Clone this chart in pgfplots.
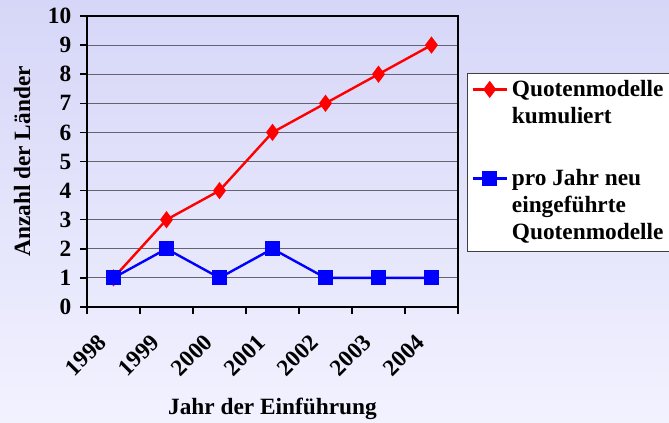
\documentclass[border=0pt]{standalone}
\usepackage{pgfplots}
\pgfplotsset{compat=1.18}
\usepackage{fontspec}
\setmainfont{Liberation Serif}
\newcommand{\fs}{\fontsize{17.5}{20.25}\selectfont\bfseries}
\definecolor{bgtop}{RGB}{214,214,248}
\definecolor{bgbot}{RGB}{242,242,255}
\definecolor{gridc}{RGB}{100,100,112}
\begin{document}
\begin{tikzpicture}
\clip (0pt,0pt) rectangle (501.75pt,317.25pt);
\shade[top color=bgtop, bottom color=bgbot] (0pt,0pt) rectangle (501.75pt,317.25pt);
\begin{axis}[at={(65.25pt,87pt)}, anchor=south west, scale only axis,
  width=278.25pt, height=218.25pt,
  xmin=-0.5, xmax=6.5, ymin=0, ymax=10,
  xtick={0,1,2,3,4,5,6},
  xticklabels={1998,1999,2000,2001,2002,2003,2004},
  major x tick style={draw=none},
  minor xtick={-0.5,0.5,1.5,2.5,3.5,4.5,5.5,6.5},
  ytick={0,1,2,3,4,5,6,7,8,9,10},
  ymajorgrids, grid style={gridc, line width=0.8pt},
  tick align=outside, major tick length=5.25pt, minor tick length=5.25pt,
  xtick pos=bottom, ytick pos=left,
  axis line style={line width=1.1pt},
  every tick/.style={black, line width=1.1pt},
  /pgf/number format/assume math mode=true,
  tick label style={font=\fs},
  y tick label style={xshift=-3pt},
  x tick label style={xshift=-6pt, yshift=-16pt, rotate=45, anchor=east},
  xlabel={Jahr der Einführung},
  xlabel style={at={(axis description cs:0.5,-0.371)}, anchor=base, font=\fs},
  ylabel={Anzahl der Länder},
  ylabel style={at={(axis description cs:-0.175,0.5)}, anchor=center, font=\fs},
  legend style={at={(axis description cs:1.0243,0.804)}, anchor=north west,
    draw=black!75, line width=0.75pt, fill=white, font=\fs,
    inner ysep=1.5pt, inner xsep=3pt,
    nodes={text depth=, inner sep=1.5pt},
    cells={anchor=base west}},
  legend image code/.code={
    \draw[mark repeat=2,mark phase=2,#1,yshift=5.25pt]
      plot coordinates {(1.5pt,0pt) (14.25pt,0pt) (27pt,0pt)};},
]
\addplot[red, line width=1.8pt, mark=diamond*, mark size=5pt,
  mark options={solid, fill=red}]
  coordinates {(0,1) (1,3) (2,4) (3,6) (4,7) (5,8) (6,9)};
\addlegendentry{\begin{tabular}[t]{@{\hspace{1.5pt}}l@{\hspace{20pt}}}Quotenmodelle\\kumuliert\\[3pt]\mbox{}\end{tabular}}
\addplot[blue, line width=1.8pt, mark=square*, mark size=4.8pt,
  mark options={solid, fill=blue}]
  coordinates {(0,1) (1,2) (2,1) (3,2) (4,1) (5,1) (6,1)};
\addlegendentry{\begin{tabular}[t]{@{\hspace{1.5pt}}l@{\hspace{20pt}}}pro Jahr neu\\eingeführte\\Quotenmodelle\end{tabular}}
\end{axis}
\end{tikzpicture}
\end{document}
